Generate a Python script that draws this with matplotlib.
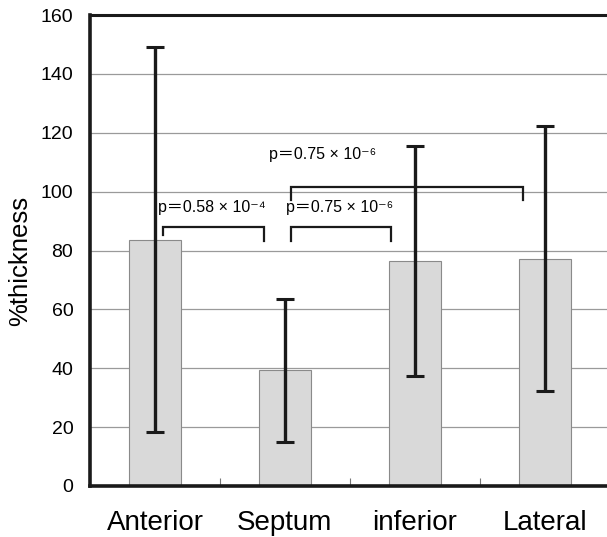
import numpy as np
import matplotlib
matplotlib.use("Agg")
import matplotlib.pyplot as plt

# bar data
regions = ["Anterior", "Septum", "inferior", "Lateral"]
means = [83.5, 39.5, 76.3, 77.2]
err_low = [18.4, 14.9, 37.3, 32.3]
err_high = [149.0, 63.6, 115.6, 122.2]

# significance brackets: (x start, x end, bar height, leg end left, leg end right)
brk_x0 = [0.06, 1.05, 1.05]
brk_x1 = [0.84, 1.82, 2.83]
brk_y = [88.0, 88.0, 101.6]
brk_leg_l = [85.3, 83.3, 97.3]
brk_leg_r = [83.3, 83.3, 97.3]
p_labels = ["p＝0.58 × 10⁻⁴", "p＝0.75 × 10⁻⁶", "p＝0.75 × 10⁻⁶"]
p_x = [0.02, 1.01, 0.88]
p_y = [94.5, 94.5, 112.6]

fam = ["Liberation Sans", "Noto Sans CJK JP", "DejaVu Sans"]
plt.rcParams["font.family"] = fam

x = np.arange(len(regions))
means = np.array(means)
yerr = np.array([means - np.array(err_low), np.array(err_high) - means])

fig = plt.figure(figsize=(6.07, 5.37), dpi=100)
ax = fig.add_axes([90 / 607, 51 / 537, 517 / 607, 471 / 537])

ax.bar(x, means, width=0.4, color="#d9d9d9", edgecolor="#8a8a8a", linewidth=0.8, zorder=2)
ax.errorbar(x, means, yerr=yerr, fmt="none", ecolor="#1a1a1a", elinewidth=2.4,
            capsize=6.5, capthick=2.2, zorder=3)

for i in range(len(brk_x0)):
    ax.plot([brk_x0[i], brk_x0[i], brk_x1[i], brk_x1[i]],
            [brk_leg_l[i], brk_y[i], brk_y[i], brk_leg_r[i]],
            color="#1a1a1a", lw=1.6, zorder=4, solid_joinstyle="miter")
    ax.text(p_x[i], p_y[i], p_labels[i], fontsize=11.5, family=fam,
            ha="left", va="center", zorder=5)

ax.set_xlim(-0.5, 3.48)
ax.set_ylim(0, 160)
ax.set_yticks(np.arange(0, 161, 20))
ax.set_xticks(x)
ax.set_xticklabels(regions, fontsize=20)
ax.set_xticks([0.5, 1.5, 2.5], minor=True)
ax.tick_params(axis="x", which="major", length=0, pad=17)
ax.tick_params(axis="x", which="minor", direction="in", length=6, width=0.8, color="#777777")
ax.tick_params(axis="y", length=0, pad=12, labelsize=14)
ax.set_ylabel("%thickness", fontsize=18.5)
ax.yaxis.set_label_coords(-0.112, 0.478)

ax.yaxis.grid(True, color="#9a9a9a", lw=0.9, zorder=0)
ax.set_axisbelow(True)

ax.spines["left"].set_linewidth(2.6)
ax.spines["bottom"].set_linewidth(2.6)
ax.spines["top"].set_linewidth(2.2)
ax.spines["right"].set_visible(False)
for s in ["left", "bottom", "top"]:
    ax.spines[s].set_color("#1a1a1a")

fig.savefig("out.png", dpi=100)
